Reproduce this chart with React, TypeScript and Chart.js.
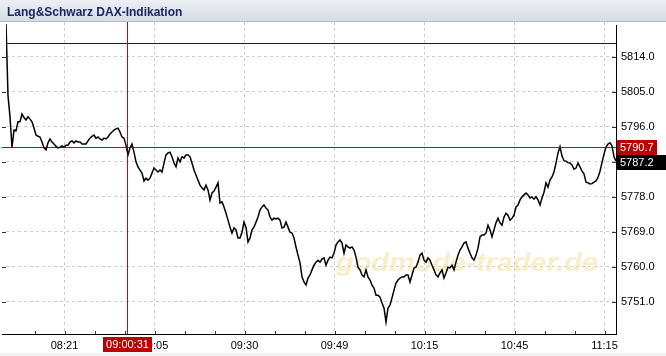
import React, { useEffect, useRef } from "react";
import { Chart, registerables } from "chart.js";

Chart.register(...registerables);

const titleText = "Lang&Schwarz DAX-Indikation";
const watermarkText = "godmode-trader.de";

// DAX indication quotes, equally spaced along the time axis
const prices: number[] = [
  5822.5, 5804.0, 5798.6, 5790.8, 5795.2, 5795.0, 5797.3, 5797.3, 5799.3, 5798.4,
  5797.8, 5798.6, 5798.0, 5797.3, 5795.7, 5793.9, 5793.6, 5793.4, 5792.1, 5790.6,
  5790.1, 5791.9, 5792.9, 5792.1, 5791.6, 5791.0, 5790.6, 5790.8, 5791.1, 5790.8,
  5791.3, 5791.3, 5792.1, 5792.4, 5791.9, 5792.4, 5792.1, 5792.1, 5791.6, 5791.6,
  5791.6, 5792.4, 5793.1, 5793.6, 5793.9, 5793.1, 5793.4, 5792.9, 5792.6, 5793.1,
  5792.9, 5793.4, 5794.2, 5794.7, 5795.2, 5795.5, 5795.7, 5794.7, 5793.4, 5793.1,
  5791.3, 5788.8, 5790.6, 5791.6, 5789.5, 5787.0, 5785.7, 5784.9, 5784.1, 5782.1,
  5782.8, 5782.3, 5782.8, 5784.1, 5785.4, 5784.9, 5784.4, 5784.9, 5784.4, 5786.7,
  5788.8, 5789.3, 5789.5, 5788.3, 5786.7, 5785.7, 5788.0, 5787.0, 5788.3, 5788.0,
  5788.8, 5788.8, 5788.3, 5786.7, 5784.9, 5783.6, 5782.3, 5781.0, 5780.3, 5779.8,
  5781.0, 5779.8, 5777.2, 5779.0, 5779.5, 5780.5, 5781.6, 5776.4, 5776.7, 5775.4,
  5773.8, 5772.0, 5770.2, 5768.7, 5770.0, 5769.5, 5767.4, 5767.4, 5768.9, 5771.5,
  5770.2, 5766.4, 5767.4, 5769.5, 5770.2, 5771.5, 5772.8, 5774.6, 5775.4, 5775.9,
  5775.1, 5774.6, 5772.8, 5772.0, 5772.5, 5772.3, 5772.5, 5772.0, 5770.0, 5770.2,
  5771.5, 5770.2, 5768.9, 5768.7, 5767.4, 5765.1, 5763.0, 5761.0, 5757.4, 5756.1,
  5755.3, 5757.1, 5757.9, 5759.2, 5760.4, 5761.2, 5761.7, 5761.2, 5762.0, 5762.3,
  5760.4, 5761.7, 5762.5, 5762.3, 5763.5, 5765.6, 5766.4, 5766.9, 5766.1, 5763.5,
  5765.6, 5765.1, 5764.8, 5765.1, 5764.3, 5762.5, 5759.9, 5759.2, 5757.9, 5757.4,
  5759.2, 5757.4, 5756.6, 5755.3, 5754.5, 5752.7, 5752.7, 5752.2, 5750.7, 5749.4,
  5745.8, 5749.4, 5750.1, 5752.0, 5754.0, 5755.8, 5756.6, 5757.1, 5757.4, 5757.4,
  5757.9, 5757.9, 5756.1, 5757.9, 5759.7, 5759.9, 5761.2, 5763.0, 5763.5, 5761.7,
  5761.2, 5762.3, 5761.7, 5760.4, 5759.2, 5757.9, 5757.4, 5758.4, 5759.2, 5757.1,
  5758.4, 5759.9, 5759.7, 5760.4, 5759.2, 5761.2, 5763.0, 5764.3, 5765.1, 5766.1,
  5766.4, 5764.8, 5763.5, 5762.3, 5761.7, 5763.0, 5764.8, 5767.7, 5768.2, 5768.2,
  5768.7, 5770.7, 5769.5, 5767.7, 5769.5, 5771.3, 5772.5, 5771.3, 5770.7, 5772.8,
  5773.8, 5773.3, 5772.0, 5772.5, 5773.3, 5775.4, 5775.9, 5777.2, 5778.0, 5778.5,
  5779.0, 5778.5, 5777.7, 5778.0, 5777.4, 5778.0, 5777.2, 5775.9, 5777.7, 5779.2,
  5781.6, 5780.5, 5782.3, 5783.1, 5784.4, 5786.7, 5789.3, 5790.9, 5788.5, 5787.3,
  5787.2, 5786.8, 5786.7, 5786.2, 5785.1, 5785.4, 5786.7, 5785.7, 5784.6, 5783.9,
  5781.8, 5781.6, 5781.3, 5781.4, 5781.8, 5782.1, 5783.0, 5784.6, 5786.8, 5789.0,
  5790.8, 5791.6, 5791.9, 5791.1, 5788.3, 5787.2,
];

const xTickIndex: number[] = [29.25, 74.25, 119.25, 164.25, 209.25, 254.25, 299.25];
const xTickLabels: string[] = ["08:21", "09:05", "09:30", "09:49", "10:15", "10:45", "11:15"];
const xMinorStep = 15;
const xMax = 305;

const yTicks: number[] = [5751, 5760, 5769, 5778, 5787, 5796, 5805, 5814];
const yMin = 5742.7;
const yMax = 5823.0;

const refLineValue = 5817.6;
const cursorIndex = 60.6;
const cursorTime = "09:00:31";
const cursorValue = 5790.7;
const lastValue = 5787.2;

const FONT = "'Liberation Sans', Arial, sans-serif";

const decor = {
  id: "decor",
  beforeDraw(chart: any) {
    const { ctx, width, height } = chart;
    ctx.save();
    ctx.fillStyle = "#ffffff";
    ctx.fillRect(0, 0, width, height);
    const g = ctx.createLinearGradient(0, 0, 0, 22);
    g.addColorStop(0, "#eceff4");
    g.addColorStop(1, "#d6dce5");
    ctx.fillStyle = g;
    ctx.fillRect(0, 0, width, 22);
    ctx.fillStyle = "#b4bcc8";
    ctx.fillRect(0, 21, width, 1);
    ctx.fillStyle = "#1b2563";
    ctx.font = "bold 12px " + FONT;
    ctx.textBaseline = "alphabetic";
    ctx.textAlign = "left";
    ctx.fillText(titleText, 7, 16);
    ctx.fillStyle = "#f2f2f2";
    ctx.fillRect(0, 353, width, 3);
    ctx.restore();
  },
  beforeDatasetsDraw(chart: any) {
    const { ctx, chartArea, scales } = chart;
    const x = scales.x;
    const y = scales.y;
    ctx.save();
    // watermark
    ctx.font = "italic bold 25px " + FONT;
    ctx.textBaseline = "alphabetic";
    ctx.textAlign = "left";
    const w = ctx.measureText(watermarkText).width;
    ctx.translate(336, 271);
    ctx.scale(262 / w, 1);
    ctx.fillStyle = "rgba(242, 224, 150, 0.5)";
    ctx.fillText(watermarkText, 0, 0);
    ctx.restore();

    ctx.save();
    // blue reference line
    const yb = Math.round(y.getPixelForValue(refLineValue));
    ctx.fillStyle = "#0c0cb4";
    ctx.fillRect(chartArea.left, yb, chartArea.right - chartArea.left, 1);
    // red cursor lines
    const yr = Math.round(y.getPixelForValue(cursorValue));
    const xr = Math.round(x.getPixelForValue(cursorIndex));
    ctx.fillStyle = "#c00c0c";
    ctx.fillRect(chartArea.left - 4, yr, chartArea.right - chartArea.left + 4, 1);
    ctx.fillRect(xr, chartArea.top, 1, chartArea.bottom - chartArea.top);
    ctx.restore();
  },
  afterDraw(chart: any) {
    const { ctx, chartArea, scales } = chart;
    const x = scales.x;
    const y = scales.y;
    ctx.save();
    // axis lines
    ctx.fillStyle = "#000000";
    ctx.fillRect(2, chartArea.bottom, chartArea.right - 1, 1);
    ctx.fillRect(chartArea.right, chartArea.top + 3, 1, chartArea.bottom - chartArea.top - 2);
    // y tick marks
    ctx.fillStyle = "#333333";
    for (const v of yTicks) {
      const py = Math.round(y.getPixelForValue(v));
      ctx.fillRect(chartArea.right - 4, py, 4, 1);
      ctx.fillRect(2, py, 4, 1);
    }
    // x tick marks
    for (let t = xTickIndex[0] - xMinorStep; t <= xMax; t += xMinorStep) {
      const px = Math.round(x.getPixelForValue(t));
      ctx.fillRect(px, chartArea.bottom - 3, 1, 3);
    }

    // value boxes
    ctx.font = "11px " + FONT;
    ctx.textBaseline = "middle";
    ctx.textAlign = "left";
    const yr = y.getPixelForValue(cursorValue);
    ctx.fillStyle = "#b80000";
    ctx.fillRect(chartArea.right + 1, Math.round(yr) - 7, 40, 15);
    ctx.fillStyle = "#ffffff";
    ctx.fillText(cursorValue.toFixed(1), chartArea.right + 4, Math.round(yr) + 0.5);

    const yl = y.getPixelForValue(lastValue);
    ctx.fillStyle = "#000000";
    ctx.fillRect(chartArea.right + 1, Math.round(yl) - 6, 49, 15);
    ctx.fillStyle = "#ffffff";
    ctx.fillText(lastValue.toFixed(1), chartArea.right + 4, Math.round(yl) + 1.5);

    // cursor time box
    const xr = Math.round(x.getPixelForValue(cursorIndex));
    ctx.fillStyle = "#b80000";
    ctx.fillRect(xr - 24, chartArea.bottom + 3, 49, 15);
    ctx.fillStyle = "#ffffff";
    ctx.textAlign = "center";
    ctx.fillText(cursorTime, xr + 0.5, chartArea.bottom + 11);
    ctx.restore();
  },
};

export default function App() {
  const ref = useRef<HTMLCanvasElement | null>(null);
  useEffect(() => {
    document.body.style.margin = "0";
    const canvas = ref.current;
    if (!canvas) return;
    const chart = new Chart(canvas, {
      type: "line",
      data: {
        datasets: [
          {
            data: prices.map((v, i) => ({ x: i, y: v })),
            borderColor: "#000000",
            borderWidth: 1.5,
            pointRadius: 0,
            tension: 0,
            fill: false,
          },
        ],
      },
      options: {
        animation: false,
        responsive: false,
        maintainAspectRatio: false,
        events: [],
        layout: { padding: { left: 6, top: 22, right: 0, bottom: 0 } },
        plugins: {
          legend: { display: false },
          tooltip: { enabled: false },
          title: { display: false },
        },
        scales: {
          x: {
            type: "linear",
            min: 0,
            max: xMax,
            afterBuildTicks: (s: any) => {
              s.ticks = xTickIndex.map((v) => ({ value: v }));
            },
            afterFit: (s: any) => {
              s.height = 22;
            },
            ticks: {
              autoSkip: false,
              maxRotation: 0,
              padding: 5,
              color: "#000000",
              font: { family: FONT, size: 11 },
              callback: (v: any) => xTickLabels[xTickIndex.indexOf(Number(v))] ?? "",
            },
            grid: { color: "#cccccc", drawTicks: false, lineWidth: 1 },
            border: { display: false, dash: [3, 3] },
          },
          y: {
            position: "right",
            min: yMin,
            max: yMax,
            afterBuildTicks: (s: any) => {
              s.ticks = yTicks.map((v) => ({ value: v }));
            },
            afterFit: (s: any) => {
              s.width = 50;
            },
            ticks: {
              padding: 5,
              color: "#000000",
              font: { family: FONT, size: 11 },
              callback: (v: any) => Number(v).toFixed(1),
            },
            grid: { color: "#cccccc", drawTicks: false, lineWidth: 1 },
            border: { display: false, dash: [3, 3] },
          },
        },
      } as any,
      plugins: [decor],
    });
    return () => chart.destroy();
  }, []);
  return (
    <div style={{ width: 666, height: 356 }}>
      <canvas ref={ref} width={666} height={356} style={{ display: "block", width: 666, height: 356 }} />
    </div>
  );
}
